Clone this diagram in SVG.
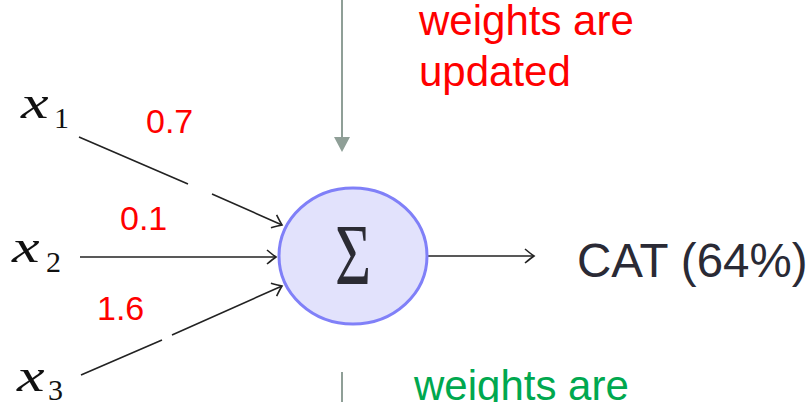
<svg xmlns="http://www.w3.org/2000/svg" width="811" height="402" viewBox="0 0 811 402">
<style>
.lbl{font-family:"Liberation Sans",Arial,sans-serif;}
.w{fill:#ff0000;font-size:34px;}
.var{font-family:"Liberation Serif","Times New Roman",serif;font-style:italic;fill:#111;font-size:46px;}
.sub{font-family:"Liberation Serif","Times New Roman",serif;fill:#111;font-size:30px;}
.edge{stroke:#222;stroke-width:1.6;fill:none;}
</style>
<defs>
<marker id="hook" markerWidth="16" markerHeight="16" refX="0" refY="0" viewBox="-12 -8 14 16" markerUnits="userSpaceOnUse" orient="auto">
<path d="M -9 -7 Q -3 -2 0 0 Q -3 2 -9 7" fill="none" stroke="#222" stroke-width="1.6"/>
</marker>
</defs>
<rect width="811" height="402" fill="#ffffff"/>
<g id="connectors">
<path class="edge" d="M 79 137 L 188 184 M 212 194 L 282 225" marker-end="url(#hook)"/>
<path class="edge" d="M 80 257 L 276 257" marker-end="url(#hook)"/>
<path class="edge" d="M 81 375 L 162 340 M 172 335 L 282 286" marker-end="url(#hook)"/>
<path class="edge" d="M 428 256 L 534 256" marker-end="url(#hook)"/>
<line x1="342" y1="0" x2="342" y2="139" stroke="#8f9f97" stroke-width="2"/>
<polygon points="334,137 350,137 342,152" fill="#8f9f97"/>
<line x1="342" y1="372" x2="342" y2="402" stroke="#8f9f97" stroke-width="2"/>
</g>
<g id="neuron">
<ellipse cx="353" cy="256" rx="74" ry="68" fill="#e2e2fc" stroke="#8080f8" stroke-width="3"/>
<text x="353" y="0" transform="translate(0,284) scale(1,1.4)" text-anchor="middle" font-family="'Liberation Serif','Times New Roman',serif" font-size="62" fill="#2b2b33">Σ</text>
</g>
<g id="x1"><text class="var" x="0" y="0" transform="translate(21,118) scale(1.35,1)">x</text><text class="sub" x="54" y="128">1</text></g>
<g id="x2"><text class="var" x="0" y="0" transform="translate(12,262) scale(1.35,1)">x</text><text class="sub" x="46" y="272">2</text></g>
<g id="x3"><text class="var" x="0" y="0" transform="translate(17,391) scale(1.35,1)">x</text><text class="sub" x="48" y="400">3</text></g>
<g id="weights">
<text class="lbl w" x="146" y="133">0.7</text>
<text class="lbl w" x="120" y="230">0.1</text>
<text class="lbl w" x="97" y="320">1.6</text>
</g>
<g id="output"><text class="lbl" x="577" y="277" font-size="47.5" fill="#2a2a35">CAT (64%)</text></g>
<g id="note-top"><text class="lbl" x="419" y="35" font-size="42" fill="#ff0000">weights are</text><text class="lbl" x="419" y="86" font-size="42" fill="#ff0000">updated</text></g>
<g id="note-bottom"><text class="lbl" x="414" y="400" font-size="42" fill="#00a84f">weights are</text></g>
</svg>
